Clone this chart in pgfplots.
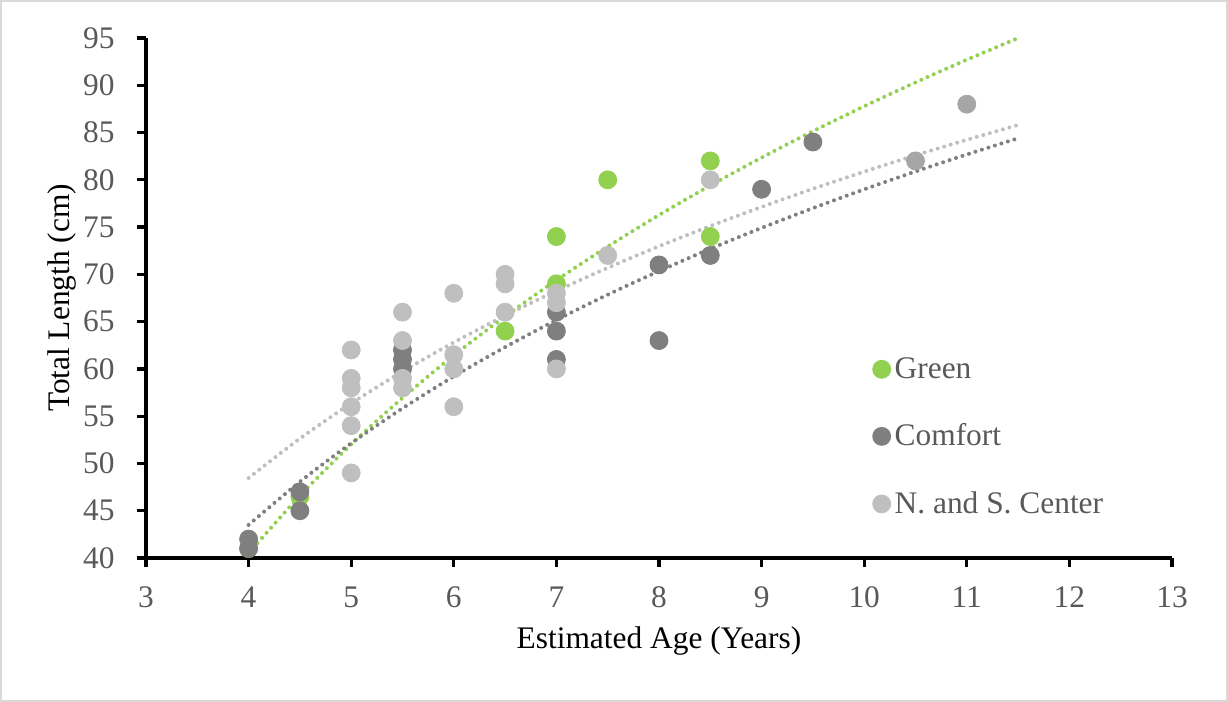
\documentclass[border=0pt]{standalone}
\usepackage{pgfplots}
\pgfplotsset{compat=1.18}
\usepackage{fontspec}
\setmainfont{Liberation Serif}
\definecolor{cgreen}{HTML}{92D050}
\definecolor{ccomf}{HTML}{7F7F7F}
\definecolor{cns}{HTML}{BFBFBF}
\definecolor{cmix}{HTML}{A6A6A6}
\definecolor{ctext}{HTML}{595959}
\definecolor{cborder}{HTML}{D9D9D9}
\begin{document}
\begin{tikzpicture}
\path[use as bounding box] (0,0) rectangle (614pt,351pt);
\draw[cborder, line width=1pt] (0.5pt,0.5pt) rectangle (613.5pt,350.5pt);
\begin{axis}[
  at={(73pt,72pt)}, anchor=south west,
  scale only axis, width=513pt, height=260pt,
  xmin=3, xmax=13, ymin=40, ymax=95,
  xtick={3,4,...,13}, ytick={40,45,...,95},
  axis x line*=bottom, axis y line*=left,
  axis line style={line width=2.4pt, black, -},
  tick align=outside, major tick length=4.5pt,
  tick style={line width=1.6pt, black},
  xtick pos=bottom, ytick pos=left,
  /pgf/number format/assume math mode=true,
  font=\fontsize{15.7}{18}\selectfont,
  tick label style={text=ctext, font=\fontsize{15.7}{18}\selectfont},
  yticklabel style={anchor=east, inner sep=0pt, xshift=-11pt},
  xticklabel style={anchor=center, inner sep=0pt, yshift=-15pt},
  xlabel={Estimated Age (Years)}, ylabel={Total Length (cm)},
  label style={text=ctext, font=\fontsize{15.7}{18}\selectfont},
  every axis x label/.style={at={(axis description cs:0.5,-0.1596)}, anchor=center},
  every axis y label/.style={at={(axis description cs:-0.0819,0.5)}, anchor=center, rotate=90},
  clip=false,
  legend style={draw=none, fill=none, at={(axis cs:10.04,60.2)}, anchor=north west,
    font=\fontsize{15.7}{18}\selectfont, text=ctext, row sep=17.3pt,
    yshift=9pt, xshift=-1pt},
  legend cell align=left,
  legend image code/.code={\draw[#1, mark repeat=2, mark phase=2] plot coordinates {(0cm,0cm) (0.1cm,0cm) (0.2cm,0cm)};},
]
% Green
\addplot[only marks, mark=*, mark size=4.5pt, mark options={draw=cgreen, fill=cgreen}] coordinates {
(4,41) (4.5,46.5) (6.5,64) (7,74) (7,69) (7.5,80) (8.5,82) (8.5,74)
};
\addlegendentry{Green}
% Comfort
\addplot[only marks, mark=*, mark size=4.5pt, mark options={draw=ccomf, fill=ccomf}] coordinates {
(4,42) (4,41) (4.5,47) (4.5,45) (5.5,62) (5.5,61) (5.5,60) (7,66) (7,64) (7,61)
(8,71) (8,63) (8.5,72) (9,79) (9.5,84)
};
\addlegendentry{Comfort}
% N. and S. Center
\addplot[only marks, mark=*, mark size=4.5pt, mark options={draw=cns, fill=cns}] coordinates {
(5,62) (5,59) (5,58) (5,56) (5,54) (5,49)
(5.5,66) (5.5,63) (5.5,59) (5.5,58)
(6,68) (6,61.5) (6,60) (6,56)
(6.5,70) (6.5,69) (6.5,66)
(7,68) (7,67) (7,60)
(7.5,72) (8.5,80)
};
\addlegendentry{N. and S. Center}
% overlapping points (Comfort + N. and S. Center)
\addplot[forget plot, only marks, mark=*, mark size=4.5pt, mark options={draw=cmix, fill=cmix}] coordinates {
(10.5,82) (11,88)
};
% trend lines
\addplot[forget plot, smooth, cgreen, line width=2pt, line cap=round, dash pattern=on 0pt off 3.4pt] coordinates {
(4,40.50) (4.5,46.58) (5,52.02) (5.5,56.93) (6,61.43) (6.5,65.55) (7,69.38) (7.5,72.94)
(8,76.27) (8.5,79.40) (9,82.35) (9.5,85.14) (10,87.78) (10.5,90.30) (11,92.70) (11.5,94.99)
};
\addplot[forget plot, smooth, ccomf, line width=2pt, line cap=round, dash pattern=on 0pt off 3.4pt] coordinates {
(4,43.50) (4.5,48.06) (5,52.14) (5.5,55.83) (6,59.21) (6.5,62.30) (7,65.17) (7.5,67.85)
(8,70.34) (8.5,72.70) (9,74.91) (9.5,77.00) (10,78.99) (10.5,80.88) (11,82.68) (11.5,84.40)
};
\addplot[forget plot, smooth, cns, line width=2pt, line cap=round, dash pattern=on 0pt off 3.4pt] coordinates {
(4,48.46) (4.5,52.63) (5,56.35) (5.5,59.72) (6,62.80) (6.5,65.63) (7,68.25) (7.5,70.69)
(8,72.97) (8.5,75.11) (9,77.13) (9.5,79.05) (10,80.86) (10.5,82.59) (11,84.23) (11.5,85.80)
};
\end{axis}
\end{tikzpicture}
\end{document}
